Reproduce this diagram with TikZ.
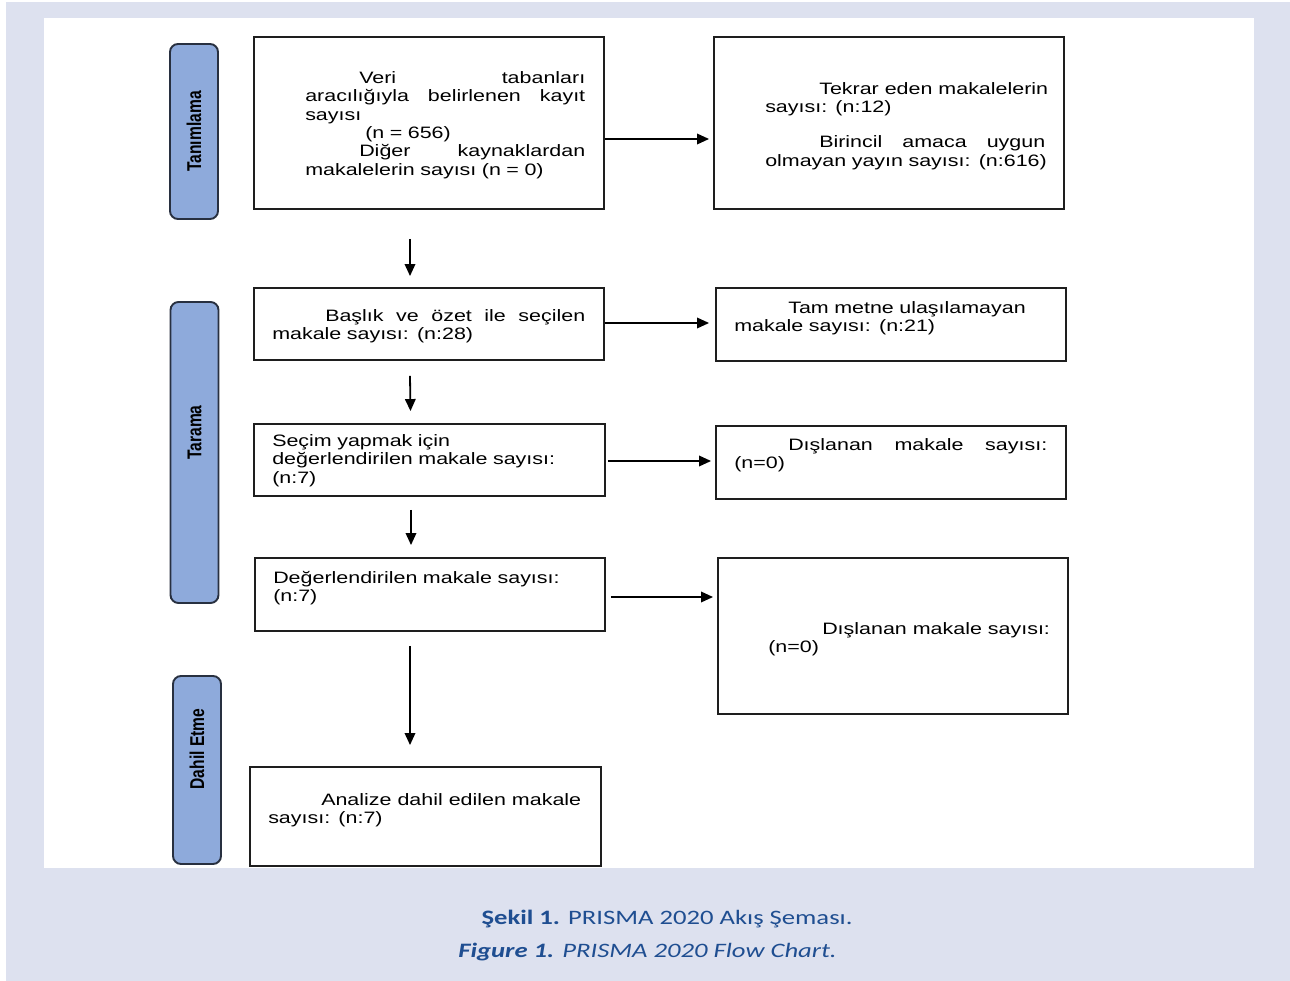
\documentclass[tikz,border=0pt]{standalone}
\usepackage{fontspec}
\setmainfont{Liberation Sans}
\newfontfamily\boxfont[FakeStretch=1.3]{Liberation Sans}
\newfontfamily\stagefont[FakeStretch=0.78]{Liberation Sans}
\newfontfamily\capfont[FakeStretch=1.3]{Carlito}
\usetikzlibrary{arrows.meta}
\definecolor{pagebg}{RGB}{221,225,239}
\definecolor{stagefill}{RGB}{142,170,219}
\definecolor{stageline}{RGB}{40,48,64}
\definecolor{capblue}{RGB}{31,78,145}
\definecolor{boxline}{RGB}{30,30,30}
% justified line: spaces stretch to the full text width
\newcommand{\jl}[1]{\makebox[\hsize][s]{\spaceskip=\fontdimen2\font plus 1fil\relax #1}}
\tikzset{
  box/.style={draw=boxline,line width=1.9pt,fill=white,inner sep=0pt},
  stage/.style={draw=stageline,line width=1.9pt,fill=stagefill,rounded corners=8pt,inner sep=0pt,minimum width=48pt},
  stagetxt/.style={rotate=90,font=\stagefont\bfseries\fontsize{20}{22}\selectfont,inner sep=0pt},
  txt/.style={anchor=west,align=left,inner sep=0pt,yshift=-2pt,font=\boxfont\fontsize{16.5}{18.3}\selectfont},
  flow/.style={line width=1.8pt,-{Triangle[length=12pt,width=10.5pt]}},
  captxt/.style={text=capblue,inner sep=0pt,font=\capfont\fontsize{20.5}{24}\selectfont}
}
\begin{document}
\begin{tikzpicture}[x=1pt,y=-1pt]
  \useasboundingbox (0,0) rectangle (1290,981);
  \fill[pagebg] (6,2) rectangle (1290,981);
  \fill[white] (44,18) rectangle (1254,868);

  % stage labels
  \node[stage,minimum height=175pt] (s1) at (194,131.5) {};
  \node[stagetxt] (s1t) at (s1.center) {Tanımlama};
  \node[stage,minimum height=301pt] (s2) at (194.5,452.5) {};
  \node[stagetxt] (s2t) at ([yshift=20pt]s2.center) {Tarama};
  \node[stage,minimum height=188pt] (s3) at (197,770) {};
  \node[stagetxt] (s3t) at ([yshift=21pt]s3.center) {Dahil Etme};

  % left column
  \node[box,minimum width=350pt,minimum height=172pt] (b1) at (429,123) {};
  \node[txt,text width=280pt] (b1t) at ([xshift=52pt]b1.west) {%
    \jl{\hspace*{54pt}Veri tabanları}\\
    \jl{aracılığıyla belirlenen kayıt}\\
    sayısı\\
    \hspace*{60pt}(n = 656)\\
    \jl{\hspace*{54pt}Diğer kaynaklardan}\\
    makalelerin sayısı (n = 0)};
  \node[box,minimum width=350pt,minimum height=72pt] (b2) at (429,324) {};
  \node[txt,text width=313pt] (b2t) at ([xshift=19pt,yshift=-0.5pt]b2.west) {%
    \jl{\hspace*{53pt}Başlık ve özet ile seçilen}\\
    makale sayısı: (n:28)};
  \node[box,minimum width=351pt,minimum height=72pt] (b3) at (429.5,460) {};
  \node[txt,text width=313pt] (b3t) at ([xshift=19pt,yshift=1.5pt]b3.west) {%
    Seçim yapmak için\\
    değerlendirilen makale sayısı:\\
    (n:7)};
  \node[box,minimum width=350pt,minimum height=73pt] (b4) at (430,594.5) {};
  \node[txt,text width=313pt] (b4t) at ([xshift=19pt,yshift=8.5pt]b4.west) {%
    Değerlendirilen makale sayısı:\\
    (n:7)};
  \node[box,minimum width=351pt,minimum height=99pt] (b5) at (425.5,816.5) {};
  \node[txt,text width=311pt] (b5t) at ([xshift=19pt,yshift=8pt]b5.west) {%
    \jl{\hspace*{53pt}Analize dahil edilen makale}\\
    sayısı: (n:7)};

  % right column
  \node[box,minimum width=350pt,minimum height=172pt] (r1) at (889,123) {};
  \node[txt,text width=280pt] (r1t) at ([xshift=52pt,yshift=-1pt]r1.west) {%
    \jl{\hspace*{54pt}Tekrar eden makalelerin}\\
    sayısı: (n:12)\\[17pt]
    \jl{\hspace*{54pt}Birincil amaca uygun}\\
    \mbox{olmayan yayın sayısı: (n:616)}};
  \node[box,minimum width=350pt,minimum height=73pt] (r2) at (891,324.5) {};
  \node[txt,text width=313pt] (r2t) at ([xshift=19pt,yshift=8.5pt]r2.west) {%
    \hspace*{54pt}Tam metne ulaşılamayan\\
    makale sayısı: (n:21)};
  \node[box,minimum width=350pt,minimum height=73pt] (r3) at (891,462.5) {};
  \node[txt,text width=313pt] (r3t) at ([xshift=19pt,yshift=9pt]r3.west) {%
    \jl{\hspace*{54pt}Dışlanan makale sayısı:}\\
    (n=0)};
  \node[box,minimum width=350pt,minimum height=156pt] (r4) at (893,636) {};
  \node[txt,text width=280pt] (r4t) at ([xshift=51pt,yshift=-1pt]r4.west) {%
    \jl{\hspace*{54pt}Dışlanan makale sayısı:}\\
    (n=0)};

  % connectors
  \draw[flow] ([yshift=-16pt]b1.east) -- ([xshift=-4pt,yshift=-16pt]r1.west);
  \draw[flow] ([yshift=1pt]b2.east) -- ([xshift=-6pt,yshift=1.5pt]r2.west);
  \draw[flow] ([xshift=2pt,yshift=-1pt]b3.east) -- ([xshift=-4pt,yshift=1.5pt]r3.west);
  \draw[flow] ([xshift=5pt,yshift=-2.5pt]b4.east) -- ([xshift=-4pt,yshift=39pt]r4.west);
  \draw[flow] ([xshift=-19pt,yshift=-29pt]b1.south) -- ([xshift=-19pt,yshift=11pt]b2.north);
  \draw[flow] ([xshift=-19pt,yshift=-15pt]b2.south) -- ([xshift=-19pt,yshift=12pt]b3.north);
  \draw[flow] ([xshift=-18.5pt,yshift=-13pt]b3.south) -- ([xshift=-19pt,yshift=12pt]b4.north);
  \draw[flow] ([xshift=-20pt,yshift=-14pt]b4.south) -- ([xshift=-15.5pt,yshift=21pt]b5.north);

  % caption
  \node[captxt] (cap1) at (667,919) {\textbf{Şekil 1.} PRISMA 2020 Akış Şeması.};
  \node[captxt] (cap2) at (647.5,952) {\textbf{\textit{Figure 1.}} \textit{PRISMA 2020 Flow Chart.}};
\end{tikzpicture}
\end{document}
